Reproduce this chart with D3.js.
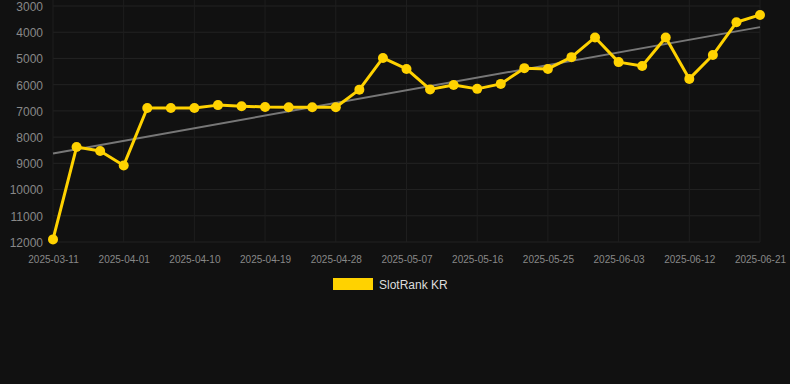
<!DOCTYPE html>
<html><head><meta charset="utf-8">
<script src="https://cdn.jsdelivr.net/npm/d3@7"></script>
<style>
html,body{margin:0;padding:0;background:#111111;}
svg{display:block;}
text{font-family:Arial,"Liberation Sans",Helvetica,sans-serif;}
</style></head>
<body>
<svg id="chart" width="790" height="384"></svg>
<script>
const dates = ["2025-03-11","2025-03-26","2025-03-29","2025-04-01","2025-04-04","2025-04-07","2025-04-10","2025-04-13","2025-04-16","2025-04-19","2025-04-22","2025-04-25","2025-04-28","2025-05-01","2025-05-04","2025-05-07","2025-05-10","2025-05-13","2025-05-16","2025-05-19","2025-05-22","2025-05-25","2025-05-28","2025-05-31","2025-06-03","2025-06-06","2025-06-09","2025-06-12","2025-06-15","2025-06-18","2025-06-21"];
const ranks = [11900,8380,8530,9080,6890,6890,6890,6780,6820,6850,6860,6860,6860,6190,4980,5400,6180,6010,6160,5970,5370,5400,4950,4200,5140,5290,4200,5780,4870,3620,3340];
const tickLabels = ["2025-03-11","2025-04-01","2025-04-10","2025-04-19","2025-04-28","2025-05-07","2025-05-16","2025-05-25","2025-06-03","2025-06-12","2025-06-21"];
const yTicks = [3000,4000,5000,6000,7000,8000,9000,10000,11000,12000];
const seriesName = "SlotRank KR";

const svg = d3.select("#chart");
const x = d3.scalePoint().domain(dates).range([53, 760]);
const y = d3.scaleLinear().domain([3000, 12000]).range([6, 242]);

// grid
svg.append("g").selectAll("line").data(yTicks).join("line")
  .attr("x1", 53).attr("x2", 760)
  .attr("y1", d => y(d)).attr("y2", d => y(d))
  .attr("stroke", "#232323").attr("stroke-width", 1);
svg.append("g").selectAll("line").data(tickLabels).join("line")
  .attr("x1", d => x(d)).attr("x2", d => x(d))
  .attr("y1", 0).attr("y2", 242)
  .attr("stroke", "#1e1e1e").attr("stroke-width", 1);

// y axis
const yAxis = d3.axisLeft(y).tickValues(yTicks).tickSize(0).tickPadding(0).tickFormat(d3.format("d"));
const gy = svg.append("g").attr("transform", "translate(43,0.5)").call(yAxis);
gy.select(".domain").remove();
gy.selectAll("text").attr("fill", "#888888").style("font-size", "12px");

// x axis
const xAxis = d3.axisBottom(x).tickValues(tickLabels).tickSize(0).tickPadding(0);
const gx = svg.append("g").attr("transform", "translate(0,256)").call(xAxis);
gx.select(".domain").remove();
gx.selectAll("text").attr("fill", "#888888").style("font-size", "10px");

// trend line (least squares)
const n = ranks.length;
const idx = d3.range(n);
const mx = d3.mean(idx), my = d3.mean(ranks);
const slope = d3.sum(idx, i => (i - mx) * (ranks[i] - my)) / d3.sum(idx, i => (i - mx) * (i - mx));
const icpt = my - slope * mx;
svg.append("line")
  .attr("x1", x(dates[0])).attr("y1", y(icpt))
  .attr("x2", x(dates[n-1])).attr("y2", y(icpt + slope * (n-1)))
  .attr("stroke", "#777777").attr("stroke-width", 2);

// series line
const line = d3.line().x((d, i) => x(dates[i])).y(d => y(d));
svg.append("path").datum(ranks)
  .attr("d", line).attr("fill", "none")
  .attr("stroke", "#FFD200").attr("stroke-width", 3).attr("stroke-linejoin", "round");
svg.append("g").selectAll("circle").data(ranks).join("circle")
  .attr("cx", (d, i) => x(dates[i])).attr("cy", d => y(d)).attr("r", 5)
  .attr("fill", "#FFD200");

// legend
const lg = svg.append("g");
lg.append("rect").attr("x", 333).attr("y", 278).attr("width", 40).attr("height", 12).attr("fill", "#FFD200");
lg.append("text").attr("x", 379).attr("y", 289).attr("fill", "#dddddd").style("font-size", "12px").text(seriesName);
</script>
</body></html>
